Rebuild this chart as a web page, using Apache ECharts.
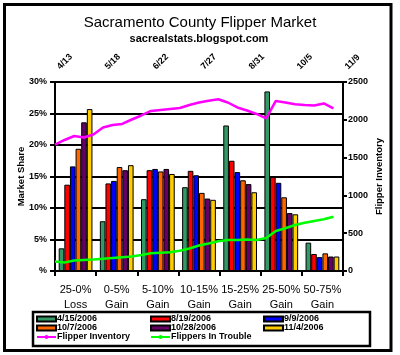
<!DOCTYPE html>
<html>
<head>
<meta charset="utf-8">
<script src="https://cdn.jsdelivr.net/npm/echarts@6/dist/echarts.min.js"></script>
<style>
  html, body { margin: 0; padding: 0; background: #fff; }
  #chart { width: 400px; height: 355px; }
</style>
</head>
<body>
<div id="chart"></div>
<script>
// ---- data ----
const titleText = 'Sacramento County Flipper Market';
const subtitleText = 'sacrealstats.blogspot.com';
const categories = ['25-0%\nLoss', '0-5%\nGain', '5-10%\nGain', '10-15%\nGain', '15-25%\nGain', '25-50%\nGain', '50-75%\nGain'];

const seriesNames = ['4/15/2006', '8/19/2006', '9/9/2006', '10/7/2006', '10/28/2006', '11/4/2006'];
const share0415 = [3.6, 7.9, 11.4, 13.3, 23.1, 28.5, 4.5];
const share0819 = [13.7, 13.9, 16.0, 15.9, 17.5, 14.9, 2.7];
const share0909 = [16.6, 14.3, 16.2, 15.2, 15.7, 14.0, 2.2];
const share1007 = [19.4, 16.5, 15.8, 12.4, 14.4, 11.7, 2.8];
const share1028 = [23.6, 16.0, 16.2, 11.5, 13.8, 9.2, 2.3];
const share1104 = [25.7, 16.8, 15.4, 11.3, 12.5, 9.0, 2.3];

const weekDates = ['2006-04-13', '2006-04-20', '2006-04-27', '2006-05-04', '2006-05-11', '2006-05-18',
  '2006-05-25', '2006-06-01', '2006-06-08', '2006-06-15', '2006-06-22', '2006-06-29', '2006-07-06',
  '2006-07-13', '2006-07-20', '2006-07-27', '2006-08-03', '2006-08-10', '2006-08-17', '2006-08-24',
  '2006-08-31', '2006-09-07', '2006-09-14', '2006-09-21', '2006-09-28', '2006-10-05', '2006-10-12',
  '2006-10-19', '2006-10-26', '2006-11-02'];
const flipperInventory = [1673, 1733, 1786, 1766, 1805, 1898, 1932, 1945, 2004, 2057, 2117, 2130, 2143,
  2156, 2196, 2229, 2253, 2272, 2229, 2163, 2123, 2077, 2018, 2249, 2229, 2205, 2196, 2190, 2216, 2150];
const flippersInTrouble = [126, 112, 139, 146, 152, 161, 172, 183, 192, 212, 234, 242, 247, 267, 298,
  337, 364, 393, 410, 410, 417, 410, 437, 529, 566, 609, 638, 662, 684, 718];

const topTickLabels = ['4/13', '5/18', '6/22', '7/27', '8/31', '10/5', '11/9'];
const topAxisStartDate = '2006-04-13';
const topAxisEndDate = '2006-11-09';

// ---- build ----
const FONT = '"Liberation Sans", Arial, sans-serif';
const DAY = 86400000;
const dayOf = s => (Date.parse(s) - Date.parse(topAxisStartDate)) / DAY;
const topMax = dayOf(topAxisEndDate);
const topStep = topMax / (topTickLabels.length - 1);

const barColors = ['#339966', '#FF0000', '#0000FF', '#FF6600', '#660066', '#FFCC00'];
const shares = [share0415, share0819, share0909, share1007, share1028, share1104];

const barSeries = shares.map((d, i) => ({
  name: seriesNames[i],
  type: 'bar',
  xAxisIndex: 0, yAxisIndex: 0,
  data: d,
  barGap: '0%',
  barCategoryGap: '18%',
  itemStyle: { color: barColors[i], borderColor: '#000', borderWidth: 1 },
  z: 2
}));

const lineSeries = [
  { name: 'Flipper Inventory', color: '#FF00FF', values: flipperInventory },
  { name: 'Flippers In Trouble', color: '#00FF00', values: flippersInTrouble }
].map(s => ({
  name: s.name,
  type: 'line',
  xAxisIndex: 1, yAxisIndex: 1,
  data: weekDates.map((d, i) => [dayOf(d), s.values[i]]),
  symbol: 'none',
  lineStyle: { color: s.color, width: 2.5 },
  itemStyle: { color: s.color },
  z: 5
}));

const legendText = { fontSize: 9, fontWeight: 'bold', color: '#000', fontFamily: FONT, lineHeight: 9, padding: [0, 0, 0, -4] };
const mkLegend = (left, data) => ({
  orient: 'vertical', left: left, top: 314.5, itemGap: 0,
  itemWidth: 19, itemHeight: 5, padding: 0,
  textStyle: legendText,
  data: data.map(n => ({ name: n, icon: n.indexOf('/') >= 0 ? 'rect' : undefined }))
});

const axisLabelBold = { fontSize: 9, fontWeight: 'bold', color: '#000', fontFamily: FONT };
const blackLine = { lineStyle: { color: '#000', width: 2 } };
const nameStyle = { fontSize: 9.5, fontWeight: 'bold', color: '#000', fontFamily: FONT };

const option = {
  animation: false,
  backgroundColor: '#fff',
  textStyle: { fontFamily: FONT },
  graphic: [
    { type: 'rect', silent: true, z: 100, shape: { x: 4.5, y: 4.5, width: 386.5, height: 346 },
      style: { fill: 'none', stroke: '#000', lineWidth: 3 } },
    { type: 'rect', silent: true, z: 100, shape: { x: 33, y: 312, width: 337, height: 34 },
      style: { fill: 'none', stroke: '#000', lineWidth: 2.5 } },
    { type: 'text', silent: true, x: 200, y: 23,
      style: { text: titleText, textAlign: 'center', textVerticalAlign: 'middle', fill: '#000',
        font: 'normal 15px ' + FONT } },
    { type: 'text', silent: true, x: 199, y: 39,
      style: { text: subtitleText, textAlign: 'center', textVerticalAlign: 'middle', fill: '#000',
        font: 'bold 11px ' + FONT } }
  ],
  grid: { left: 55, right: 57, top: 82, bottom: 84, containLabel: false },
  legend: [
    mkLegend(36, [seriesNames[0], seriesNames[3], 'Flipper Inventory']),
    mkLegend(150, [seriesNames[1], seriesNames[4], 'Flippers In Trouble']),
    mkLegend(263, [seriesNames[2], seriesNames[5]])
  ],
  xAxis: [
    {
      type: 'category', position: 'bottom', data: categories,
      axisLine: blackLine,
      axisTick: { show: true, length: 5, lineStyle: { color: '#000', width: 2 } },
      axisLabel: { fontSize: 11, color: '#000', fontFamily: FONT, lineHeight: 14.5, margin: 12, interval: 0 },
      splitLine: { show: false }
    },
    {
      type: 'value', position: 'top', min: 0, max: topMax, interval: topStep,
      axisLine: blackLine,
      axisTick: { show: true, length: 4, lineStyle: { color: '#000', width: 2 } },
      axisLabel: Object.assign({}, axisLabelBold, { rotate: 45, margin: 10.5, padding: [0, 0, 0, 5],
        formatter: v => topTickLabels[Math.round(v / topStep)] }),
      splitLine: { show: false }
    }
  ],
  yAxis: [
    {
      type: 'value', position: 'left', min: 0, max: 30, interval: 5,
      axisLine: Object.assign({ show: true }, blackLine),
      axisTick: { show: true, length: 5, lineStyle: { color: '#000', width: 2 } },
      axisLabel: Object.assign({}, axisLabelBold, { margin: 8, formatter: v => (v === 0 ? '%' : v + '%') }),
      splitLine: { show: true, lineStyle: { color: '#000', width: 2 } },
      name: 'Market Share', nameLocation: 'middle', nameGap: 29, nameRotate: 90, nameMoveOverlap: false,
      nameTextStyle: nameStyle
    },
    {
      type: 'value', position: 'right', min: 0, max: 2500, interval: 500,
      axisLine: Object.assign({ show: true }, blackLine),
      axisTick: { show: true, length: 4, lineStyle: { color: '#000', width: 2 } },
      axisLabel: Object.assign({}, axisLabelBold, { margin: 5, formatter: v => String(v) }),
      splitLine: { show: false },
      name: 'Flipper Inventory', nameLocation: 'middle', nameGap: 31, nameRotate: 90, nameMoveOverlap: false,
      nameTextStyle: nameStyle
    }
  ],
  series: barSeries.concat(lineSeries)
};

const chart = echarts.init(document.getElementById('chart'), null, { renderer: 'canvas' });
chart.setOption(option);
</script>
</body>
</html>
